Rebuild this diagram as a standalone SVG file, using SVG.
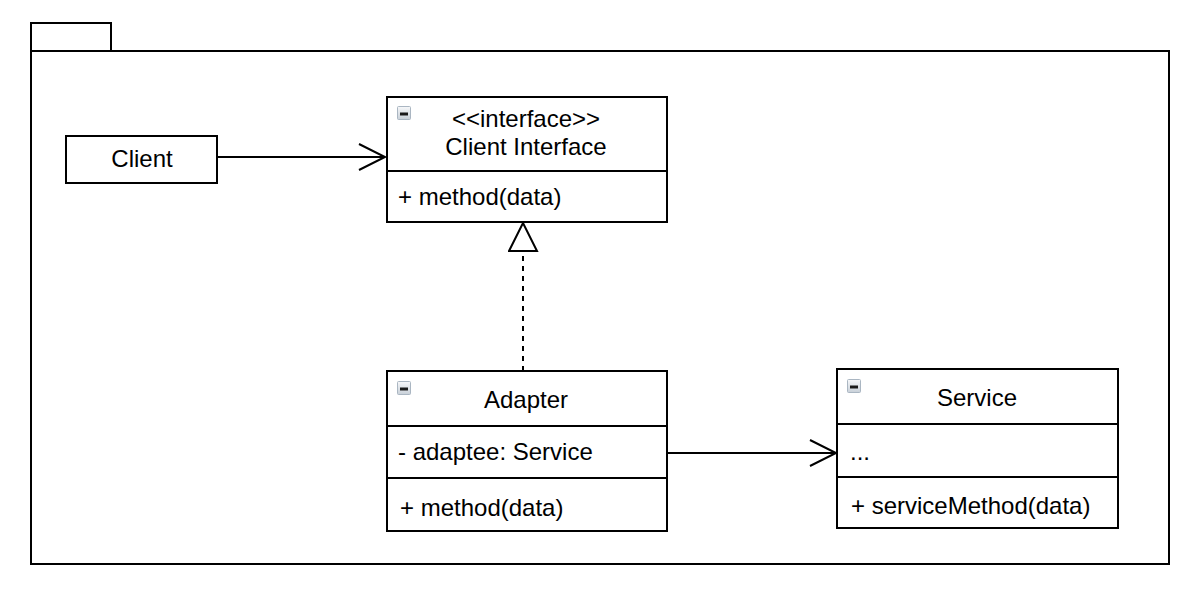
<svg xmlns="http://www.w3.org/2000/svg" width="1200" height="598" viewBox="0 0 1200 598">
<style>
.box{fill:#fff;stroke:#000;stroke-width:2}
.ln{stroke:#000;stroke-width:2;fill:none}
.t{font-family:"Liberation Sans",Arial,sans-serif;font-size:24px;fill:#000}
.c{text-anchor:middle}
.ic{fill:url(#g);stroke:#aab6c2;stroke-width:1}
.im{stroke:#1a1a1a;stroke-width:3}
</style>
<defs>
<linearGradient id="g" x1="0" y1="0" x2="0" y2="1">
<stop offset="0" stop-color="#f7f8fa"/>
<stop offset="1" stop-color="#c8d0d8"/>
</linearGradient>
<marker id="open" markerWidth="30" markerHeight="30" refX="27" refY="14" orient="auto" markerUnits="userSpaceOnUse">
<path d="M1,1 L27,14 L1,27" fill="none" stroke="#000" stroke-width="2"/>
</marker>
<marker id="tri" markerWidth="32" markerHeight="32" refX="30" refY="15" orient="auto" markerUnits="userSpaceOnUse">
<path d="M2,1 L30,15 L2,29 Z" fill="#fff" stroke="#000" stroke-width="2"/>
</marker>
</defs>
<g id="package">
<rect class="box" x="31" y="23" width="80" height="28"/>
<rect class="box" x="31" y="51" width="1138" height="513"/>
</g>
<g id="connectors">
<line class="ln" x1="217" y1="157" x2="385" y2="157" marker-end="url(#open)"/>
<line class="ln" x1="523" y1="371" x2="523" y2="252" stroke-dasharray="5 5"/>
<line class="ln" x1="523" y1="252" x2="523" y2="223" marker-end="url(#tri)" stroke="none"/>
<line class="ln" x1="667" y1="453" x2="836" y2="453" marker-end="url(#open)"/>
</g>
<g id="client">
<rect class="box" x="66" y="136" width="151" height="47"/>
<text class="t c" x="142" y="167">Client</text>
</g>
<g id="client-interface">
<rect class="box" x="387" y="97" width="280" height="125"/>
<line class="ln" x1="387" y1="171" x2="667" y2="171"/>
<rect class="ic" x="397.5" y="106.5" width="13" height="13" rx="1"/>
<line class="im" x1="400" y1="114" x2="408" y2="114"/>
<text class="t c" x="526" y="127">&lt;&lt;interface&gt;&gt;</text>
<text class="t c" x="526" y="155">Client Interface</text>
<text class="t" x="398" y="205">+ method(data)</text>
</g>
<g id="adapter">
<rect class="box" x="387" y="371" width="280" height="160"/>
<line class="ln" x1="387" y1="426" x2="667" y2="426"/>
<line class="ln" x1="387" y1="478" x2="667" y2="478"/>
<rect class="ic" x="397.5" y="381.5" width="13" height="13" rx="1"/>
<line class="im" x1="400" y1="389" x2="408" y2="389"/>
<text class="t c" x="526" y="408">Adapter</text>
<text class="t" x="398" y="460">- adaptee: Service</text>
<text class="t" x="400" y="516">+ method(data)</text>
</g>
<g id="service">
<rect class="box" x="837" y="369" width="281" height="159"/>
<line class="ln" x1="837" y1="424" x2="1118" y2="424"/>
<line class="ln" x1="837" y1="477" x2="1118" y2="477"/>
<rect class="ic" x="847.5" y="379.5" width="13" height="13" rx="1"/>
<line class="im" x1="850" y1="387" x2="858" y2="387"/>
<text class="t c" x="977" y="406">Service</text>
<text class="t" x="850" y="460">...</text>
<text class="t" x="851" y="514">+ serviceMethod(data)</text>
</g>
</svg>
